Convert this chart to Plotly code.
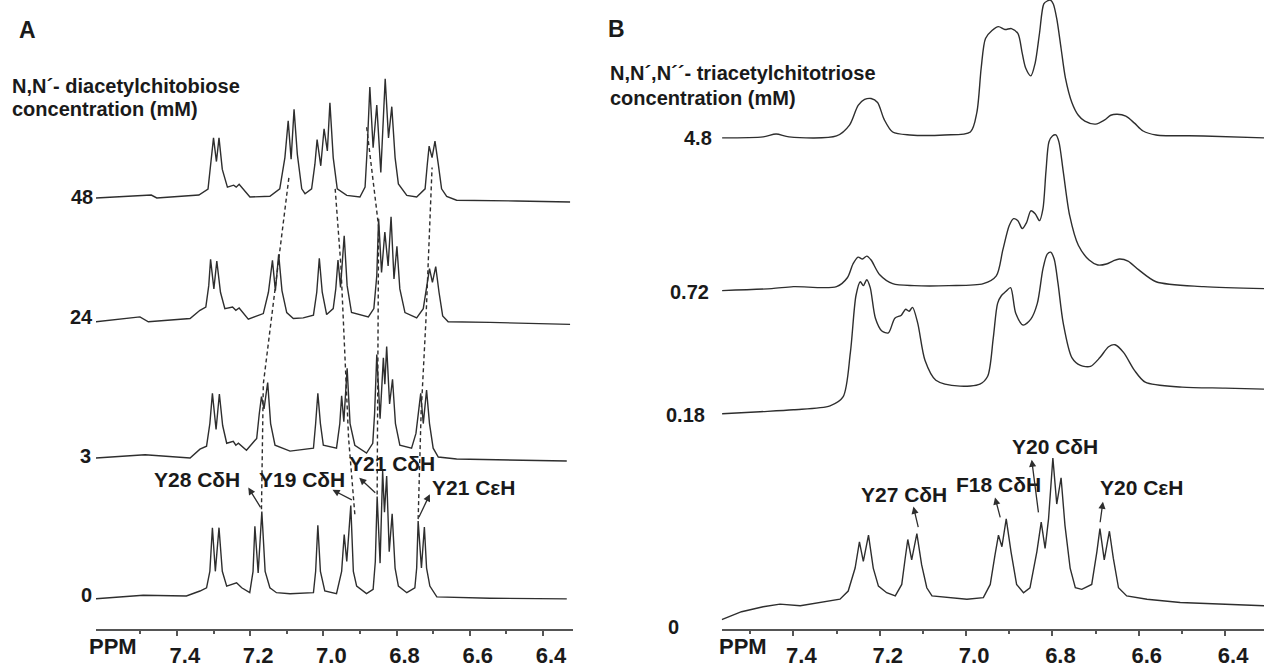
import plotly.graph_objects as go

# ---------------- Panel A : N,N'-diacetylchitobiose ----------------
A_labels = ["0", "3", "24", "48"]
A_offsets = [31, 173, 312, 437]

A0_ppm = [7.624, 7.492, 7.374, 7.337, 7.319, 7.310, 7.303, 7.295, 7.285, 7.276, 7.264, 7.237, 7.223, 7.201,
          7.192, 7.187, 7.178, 7.168, 7.159, 7.146, 7.128, 7.091, 7.027, 7.021, 7.015, 7.008, 6.996, 6.964,
          6.950, 6.943, 6.936, 6.925, 6.918, 6.909, 6.882, 6.864, 6.858, 6.853, 6.845, 6.838, 6.833, 6.827,
          6.820, 6.812, 6.804, 6.795, 6.772, 6.750, 6.745, 6.741, 6.732, 6.724, 6.718, 6.709, 6.690, 6.636,
          6.545, 6.335]
A0_int = [0, 3.7, 3, 8, 11.3, 28, 72.3, 28, 72.3, 28, 13, 16.3, 11.3, 6.3,
          28, 73.7, 26.3, 88.7, 28, 11.3, 6.3, 5.3, 6.3, 28, 74.7, 28, 8, 5.3,
          28, 65.3, 38, 94.7, 28, 13, 5.3, 9.7, 38, 104, 36.3, 129.7, 88, 124.7,
          48, 86.3, 31.3, 13, 6.3, 11.3, 31.3, 79, 31.3, 73, 31.3, 13, 2, 1.3,
          0.7, 0]

A3_ppm = [7.624, 7.487, 7.364, 7.337, 7.319, 7.310, 7.303, 7.293, 7.284, 7.275, 7.264, 7.246, 7.239, 7.232,
          7.210, 7.182, 7.175, 7.169, 7.162, 7.152, 7.144, 7.132, 7.091, 7.027, 7.021, 7.015, 7.008, 7.000,
          6.964, 6.955, 6.950, 6.944, 6.935, 6.927, 6.914, 6.882, 6.865, 6.860, 6.854, 6.845, 6.836, 6.832,
          6.827, 6.819, 6.811, 6.803, 6.791, 6.759, 6.747, 6.741, 6.734, 6.727, 6.718, 6.710, 6.700, 6.686,
          6.636, 6.335]
A3_int = [1, 4.3, 1, 10, 13, 36, 66.7, 30, 66, 34, 16, 18, 14, 16,
          9, 21, 46, 63.3, 51, 77.7, 36, 14, 8, 11, 36, 66.7, 36, 14,
          11, 36, 64.3, 38, 92, 36, 14, 6, 16, 46, 106, 41, 102.7, 76,
          114.3, 56, 81, 36, 14, 11, 26, 46, 66.7, 36, 70, 36, 11, 2,
          0, -2]

A24_ppm = [7.624, 7.501, 7.478, 7.364, 7.337, 7.321, 7.313, 7.308, 7.299, 7.291, 7.281, 7.269, 7.248, 7.239,
           7.230, 7.205, 7.164, 7.150, 7.139, 7.131, 7.122, 7.113, 7.100, 7.082, 7.055, 7.027, 7.018, 7.011,
           7.003, 6.991, 6.973, 6.966, 6.960, 6.953, 6.943, 6.935, 6.923, 6.877, 6.862, 6.854, 6.849, 6.841,
           6.832, 6.823, 6.815, 6.807, 6.799, 6.791, 6.777, 6.745, 6.727, 6.718, 6.710, 6.702, 6.693, 6.684,
           6.674, 6.659, 6.545, 6.326]
A24_int = [0.3, 5.3, 0.3, 3.7, 12, 15.3, 37, 63.7, 33.7, 62, 30.3, 13.7, 15.3, 12,
           14.3, 3, 8.7, 30.3, 62.7, 32, 68.7, 32, 9.7, 3.7, 4.3, 7, 30.3, 64.7,
           30.3, 7.7, 13.7, 33.7, 63, 35.3, 87.7, 37, 9.7, 5.3, 13.7, 47, 105, 50.3,
           91.3, 57, 107, 43.7, 77, 33.7, 9.7, 4.3, 13.7, 37, 54.3, 40.3, 56.3, 30.3,
           6.3, 0.3, -0.3, -2.3]

A48_ppm = [7.621, 7.47, 7.455, 7.34, 7.315, 7.307, 7.300, 7.292, 7.285, 7.276, 7.262, 7.245, 7.238, 7.230,
           7.2005, 7.146, 7.119, 7.105, 7.096, 7.088, 7.080, 7.071, 7.059, 7.050, 7.032, 7.023, 7.017, 7.007,
           6.998, 6.989, 6.982, 6.973, 6.962, 6.936, 6.900, 6.886, 6.880, 6.873, 6.864, 6.854, 6.843, 6.831,
           6.822, 6.813, 6.804, 6.795, 6.772, 6.745, 6.722, 6.716, 6.711, 6.703, 6.695, 6.686, 6.677, 6.663,
           6.636, 6.472, 6.326]
A48_int = [1, 4, 1, 4, 10, 35, 62, 38, 62, 30, 12, 14, 12, 15,
           2, 2.7, 10.3, 42, 79.3, 40.3, 91, 45.3, 10.3, 5.3, 10.3, 35.3, 60.3, 33.7,
           71.3, 48.7, 97.7, 42, 10.3, 3.7, 2, 12, 52, 113.7, 52, 95.3, 27, 122,
           62, 93.7, 42, 15.3, 3.7, 2, 10.3, 35.3, 53.7, 42, 58.7, 35.3, 10.3, 2.7,
           -1.3, -2, -3]

# dashed peak-tracking lines (ppm, stacked intensity)
A_track = [
    ([7.169, 7.164, 7.094], [122, 249, 459]),
    ([6.914, 6.931, 6.952, 6.968], [117, 194, 369, 449]),
    ([6.853, 6.849, 6.882], [137, 409, 511]),
    ([6.741, 6.733, 6.720, 6.703], [112, 219, 312, 469]),
]

# ---------------- Panel B : N,N',N''-triacetylchitotriose ----------------
B_labels = ["0", "0.18", "0.72", "4.8"]
B_offsets = [28, 223, 347, 502]

B0_ppm = [7.566, 7.52, 7.47, 7.431, 7.384, 7.338, 7.292, 7.273, 7.257, 7.247, 7.238, 7.226, 7.215, 7.203, 7.184,
          7.164, 7.149, 7.141, 7.135, 7.126, 7.114, 7.103, 7.091, 7.079, 7.045, 6.998, 6.960, 6.944, 6.933,
          6.925, 6.917, 6.907, 6.896, 6.883, 6.867, 6.852, 6.836, 6.826, 6.817, 6.809, 6.799, 6.790, 6.780,
          6.771, 6.759, 6.747, 6.732, 6.709, 6.697, 6.690, 6.680, 6.668, 6.659, 6.647, 6.628, 6.581, 6.504,
          6.427, 6.310]
B0_int = [-16, -8, -3, -0.3, -2, 1.3, 4.7, 13, 36.3, 63, 43, 69.7, 36.3, 18, 11.3,
          8, 19.7, 46.3, 65.3, 44.7, 71.3, 39.7, 16.3, 8, 6.3, 4.7, 6.3, 19.7, 49.7,
          69.7, 58, 86.3, 53, 19.7, 11.3, 16.3, 53, 83, 56.3, 86.3, 148, 101.3, 128,
          79.7, 36.3, 16.3, 14.7, 19.7, 53, 76.3, 44.7, 73.7, 46.3, 16.3, 8, 4.7, 1.3,
          -0.3, -2]

B18_ppm = [7.565, 7.477, 7.40, 7.315, 7.285, 7.268, 7.255, 7.245, 7.238, 7.230, 7.222, 7.210, 7.195, 7.180,
           7.165, 7.150, 7.140, 7.132, 7.124, 7.112, 7.095, 7.070, 7.014, 6.968, 6.950, 6.937, 6.927,
           6.918, 6.908, 6.897, 6.885, 6.868, 6.850, 6.835, 6.822, 6.812, 6.804, 6.796, 6.787, 6.775,
           6.755, 6.735, 6.712, 6.690, 6.670, 6.655, 6.635, 6.610, 6.585, 6.500, 6.400, 6.310]
B18_int = [-2, 0, 2, 6, 15, 60, 118, 132, 128, 134, 126, 95, 82, 80,
           95, 98, 104, 102, 106, 90, 52, 32, 26, 28, 36, 75, 110,
           118, 122, 126, 100, 88, 94, 110, 145, 160, 162, 155, 130, 90,
           55, 47, 46, 55, 66, 68, 60, 42, 30, 25, 24, 23]

B72_ppm = [7.565, 7.45, 7.40, 7.30, 7.275, 7.262, 7.250, 7.240, 7.230, 7.220, 7.200, 7.170, 7.120, 7.040, 6.960,
           6.930, 6.915, 6.900, 6.890, 6.880, 6.870, 6.860, 6.850, 6.840, 6.830, 6.822, 6.815, 6.808,
           6.800, 6.792, 6.785, 6.775, 6.760, 6.740, 6.715, 6.695, 6.675, 6.660, 6.645, 6.625, 6.600,
           6.560, 6.450, 6.310]
B72_int = [-1, 1, 3, 3, 12, 26, 33, 31, 34, 30, 15, 6, 4, 4, 6,
           14, 40, 65, 72, 70, 62, 68, 80, 77, 70, 82, 120, 150,
           156, 157, 150, 120, 75, 45, 30, 25, 26, 29, 31, 29, 20,
           8, 3, 1]

B48_ppm = [7.565, 7.47, 7.44, 7.41, 7.30, 7.27, 7.250, 7.235, 7.220, 7.205, 7.190, 7.170, 7.130, 7.050,
           6.990, 6.975, 6.965, 6.955, 6.940, 6.925, 6.910, 6.895, 6.880, 6.870, 6.862, 6.850, 6.840,
           6.830, 6.820, 6.812, 6.805, 6.798, 6.790, 6.780, 6.770, 6.755, 6.740, 6.725, 6.700, 6.680,
           6.665, 6.650, 6.630, 6.610, 6.590, 6.560, 6.450, 6.310]
B48_int = [-1, 0, 3, 0, 1, 12, 32, 38, 39, 35, 18, 5, 2, 2,
           5, 25, 70, 100, 108, 112, 109, 110, 105, 85, 70, 62, 75,
           105, 135, 138, 139, 135, 120, 90, 60, 35, 22, 16, 13, 17,
           22, 23, 21, 14, 6, 2, 1, -1]

# ---------------- figure ----------------
LINE = "#2e2e2e"
FONT = "Liberation Sans, Arial, sans-serif"
fig = go.Figure()

for ppm, inten, off in zip([A0_ppm, A3_ppm, A24_ppm, A48_ppm], [A0_int, A3_int, A24_int, A48_int], A_offsets):
    fig.add_trace(go.Scatter(x=ppm, y=[v + off for v in inten], mode="lines",
                             line=dict(color=LINE, width=1.4), xaxis="x", yaxis="y",
                             showlegend=False, hoverinfo="skip"))
for xs, ys in A_track:
    fig.add_trace(go.Scatter(x=xs, y=ys, mode="lines", line=dict(color=LINE, width=1.4, dash="4px,3px"),
                             xaxis="x", yaxis="y", showlegend=False, hoverinfo="skip"))

for i, (ppm, inten, off) in enumerate(zip([B0_ppm, B18_ppm, B72_ppm, B48_ppm],
                                          [B0_int, B18_int, B72_int, B48_int], B_offsets)):
    shape = "linear" if i == 0 else "spline"
    fig.add_trace(go.Scatter(x=ppm, y=[v + off for v in inten], mode="lines",
                             line=dict(color=LINE, width=1.4, shape=shape, smoothing=0.8),
                             xaxis="x2", yaxis="y2", showlegend=False, hoverinfo="skip"))

W, H = 1264, 668

def xaxis_style(rng, dom):
    return dict(domain=dom, range=rng, showgrid=False, zeroline=False, showline=True,
                linecolor="#555555", linewidth=2, ticks="outside", ticklen=5, tickwidth=1.5,
                tickcolor="#555555", tickmode="array", tickvals=[7.4, 7.2, 7.0, 6.8, 6.6, 6.4],
                ticktext=["7.4", "7.2", "7.0", "6.8", "6.6", "6.4"],
                minor=dict(tickvals=[7.5, 7.3, 7.1, 6.9, 6.7, 6.5], ticklen=3, tickcolor="#555555",
                           ticks="outside", tickwidth=1.5),
                tickfont=dict(family=FONT, size=22, color="#1a1a1a", weight="bold"),
                ticklabelshift=-8, fixedrange=True)

fig.update_layout(
    width=W, height=H, margin=dict(l=0, r=0, t=0, b=0),
    paper_bgcolor="white", plot_bgcolor="white",
    xaxis=xaxis_style([7.621, 6.318], [96 / W, 573 / W]),
    yaxis=dict(domain=[29 / H, 1], range=[0, 639], visible=False, fixedrange=True),
    xaxis2=xaxis_style([7.566, 6.310], [721.7 / W, 1.0]),
    yaxis2=dict(domain=[27 / H, 1], range=[0, 641], visible=False, fixedrange=True),
)

ann = []
def txt(x, y, t, size=21, xanchor="center", yanchor="middle"):
    ann.append(dict(x=x / W, y=1 - y / H, xref="paper", yref="paper", text=t, showarrow=False,
                    xanchor=xanchor, yanchor=yanchor,
                    font=dict(family=FONT, size=size, color="#1a1a1a", weight="bold")))

txt(27.5, 30.5, "A", 23)
txt(616.5, 29.5, "B", 23)
txt(10, 87, "N,N´- diacetylchitobiose", 20, "left")
txt(10, 111, "concentration (mM)", 20, "left")
txt(608, 74, "N,N´,N´´- triacetylchitotriose", 20, "left")
txt(608, 99, "concentration (mM)", 20, "left")
txt(113, 656, "PPM", 22)
txt(743, 656, "PPM", 22)

for lab, yy, xr in zip(A_labels, [604, 463, 322, 200], [94, 93, 95, 95]):
    txt(xr, yy, lab, 20, "right")
for lab, yy, xr in zip(B_labels, [637, 421, 296, 140], [681, 707, 711, 714]):
    txt(xr, yy, lab, 20, "right")

def peak_label(xr, yr, x, y, t):
    ann.append(dict(x=x, y=y, xref=xr, yref=yr, text=t, showarrow=False,
                    font=dict(family=FONT, size=21, color="#1a1a1a", weight="bold")))

def arrow(xr, yr, hx, hy, tx, ty):
    ann.append(dict(x=hx, y=hy, ax=tx, ay=ty, xref=xr, yref=yr, axref=xr, ayref=yr, text="",
                    showarrow=True, arrowhead=2, arrowsize=1.1, arrowwidth=1.3, arrowcolor=LINE))

peak_label("x", "y", 7.344, 152, "Y28 CδH")
peak_label("x", "y", 7.059, 152, "Y19 CδH")
peak_label("x", "y", 6.813, 168, "Y21 CδH")
peak_label("x", "y", 6.589, 144, "Y21 CεH")
arrow("x", "y", 7.205, 144, 7.169, 122.3)
arrow("x", "y", 6.975, 141.7, 6.918, 130.7)
arrow("x", "y", 6.902, 154, 6.854, 137.3)
arrow("x", "y", 6.709, 137.3, 6.741, 112.3)

peak_label("x2", "y2", 7.144, 139.3, "Y27 CδH")
peak_label("x2", "y2", 6.926, 149, "F18 CδH")
peak_label("x2", "y2", 6.794, 188, "Y20 CδH")
peak_label("x2", "y2", 6.593, 146, "Y20 CεH")
arrow("x2", "y2", 7.122, 126.7, 7.110, 104.3)
arrow("x2", "y2", 6.933, 136, 6.920, 114.3)
arrow("x2", "y2", 6.848, 174.3, 6.832, 119.3)
arrow("x2", "y2", 6.683, 131.7, 6.690, 109.3)

fig.update_layout(annotations=ann)
fig.write_html("out.html")
